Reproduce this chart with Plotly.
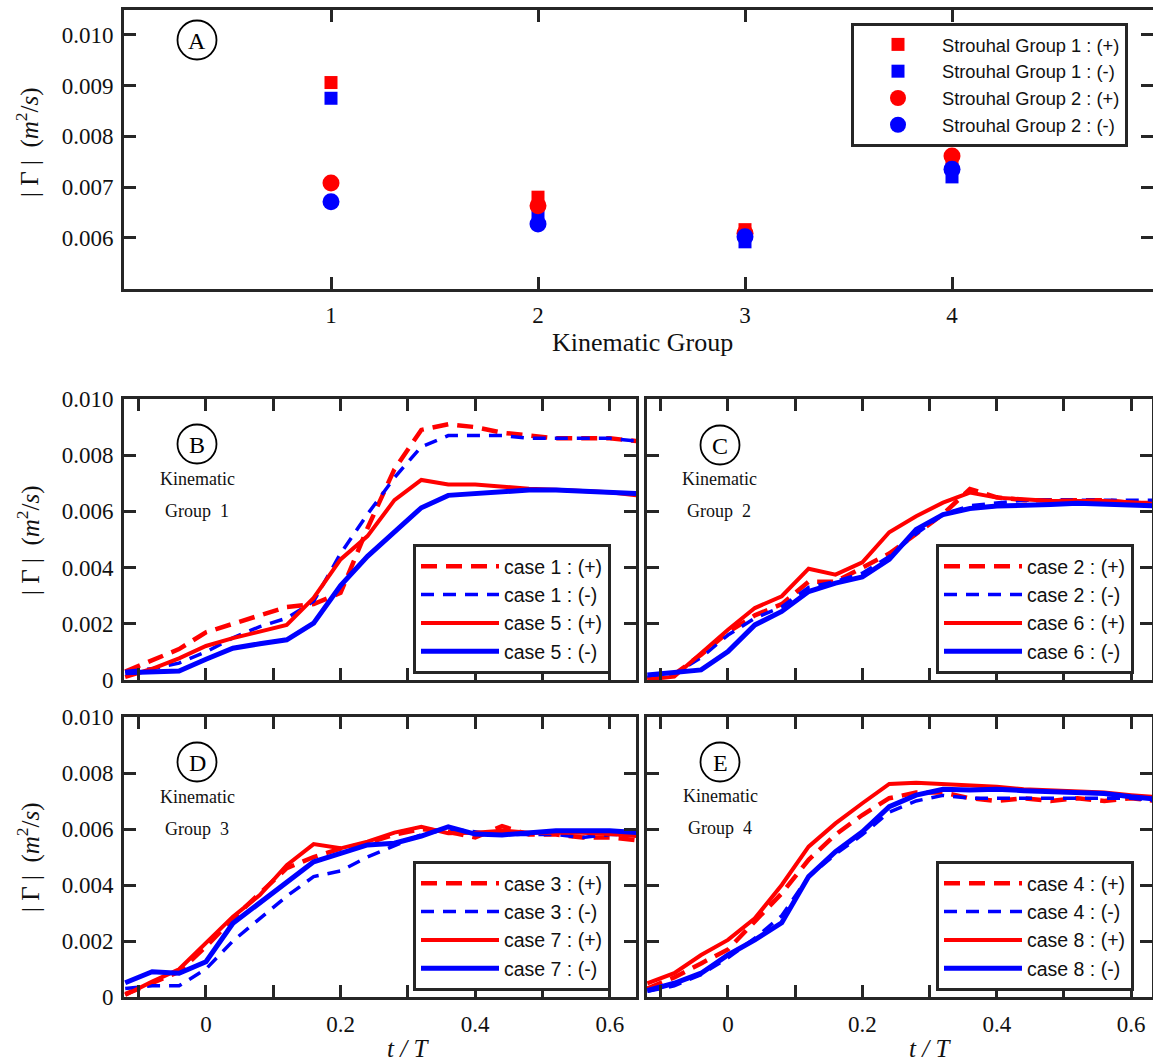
import plotly.graph_objects as go

W, H = 1153, 1061

# ---------------- data ----------------
kinematic_groups = [1, 2, 3, 4]
st1_pos = [0.00906, 0.00680, 0.00616, 0.00748]
st1_neg = [0.00875, 0.00649, 0.00592, 0.00720]
st2_pos = [0.00708, 0.00663, 0.00609, 0.00761]
st2_neg = [0.00671, 0.00627, 0.00602, 0.00735]

t_over_T = [-0.12, -0.08, -0.04, 0.00, 0.04, 0.08, 0.12, 0.16, 0.20, 0.24,
            0.28, 0.32, 0.36, 0.40, 0.44, 0.48, 0.52, 0.56, 0.60, 0.64]

# Kinematic group 1
case1_pos = [0.0003, 0.0007, 0.0011, 0.0017, 0.0020, 0.0023, 0.0026, 0.0027, 0.0031, 0.0054,
             0.0075, 0.0089, 0.0091, 0.0090, 0.0088, 0.0087, 0.0086, 0.0086, 0.0086, 0.0085]
case1_neg = [0.0003, 0.0004, 0.0006, 0.0010, 0.0015, 0.0019, 0.0022, 0.0028, 0.0045, 0.0059,
             0.0072, 0.0083, 0.0087, 0.0087, 0.0087, 0.0086, 0.0086, 0.0086, 0.0086, 0.0085]
case5_pos = [0.0001, 0.0004, 0.00077, 0.00121, 0.00149, 0.00173, 0.00196, 0.00292, 0.00429, 0.00512,
             0.00640, 0.00712, 0.00696, 0.00696, 0.00687, 0.00681, 0.00677, 0.00672, 0.00668, 0.00657]
case5_neg = [0.00026, 0.0003, 0.00032, 0.00074, 0.00113, 0.00129, 0.00143, 0.00202, 0.00336, 0.0044,
             0.00526, 0.00613, 0.00657, 0.00663, 0.00673, 0.00676, 0.00676, 0.00673, 0.00667, 0.00664]

# Kinematic group 2
case2_pos = [0.00005, 0.0002, 0.0009, 0.0017, 0.0023, 0.0027, 0.0035, 0.0035, 0.0040, 0.0045,
             0.0052, 0.0059, 0.0068, 0.0065, 0.0064, 0.0064, 0.0064, 0.0064, 0.0063, 0.0063]
case2_neg = [0.0001, 0.0002, 0.0008, 0.0016, 0.0022, 0.0026, 0.0033, 0.0035, 0.0038, 0.0044,
             0.0052, 0.0059, 0.0062, 0.0063, 0.0064, 0.0064, 0.0064, 0.0064, 0.0064, 0.0064]
case6_pos = [0.00002, 0.00012, 0.00095, 0.00179, 0.00256, 0.00298, 0.00396, 0.00375, 0.00419, 0.00526,
             0.00583, 0.00631, 0.00667, 0.00649, 0.00643, 0.00637, 0.00637, 0.00637, 0.00633, 0.00625]
case6_neg = [0.00018, 0.00026, 0.00036, 0.00101, 0.00196, 0.00244, 0.00315, 0.00345, 0.00367, 0.00429,
             0.00536, 0.00589, 0.0061, 0.00619, 0.00624, 0.00625, 0.00629, 0.00625, 0.00624, 0.00619]

# Kinematic group 3
case3_pos = [0.0001, 0.0005, 0.0009, 0.0018, 0.0028, 0.0037, 0.0046, 0.0050, 0.0053, 0.0055,
             0.0058, 0.0060, 0.0059, 0.0057, 0.0061, 0.0058, 0.0058, 0.0057, 0.0057, 0.0056]
case3_neg = [0.0003, 0.0004, 0.0004, 0.0010, 0.0020, 0.0028, 0.0036, 0.0043, 0.0045, 0.0050,
             0.0054, 0.0058, 0.0060, 0.0059, 0.0058, 0.0058, 0.0058, 0.0057, 0.0058, 0.0058]
case7_pos = [0.00007, 0.00055, 0.00099, 0.00192, 0.00287, 0.00364, 0.00471, 0.00546, 0.00531, 0.00555,
             0.00587, 0.00608, 0.00585, 0.00587, 0.00594, 0.00587, 0.00587, 0.00587, 0.00582, 0.00575]
case7_neg = [0.00051, 0.0009, 0.00085, 0.00126, 0.00263, 0.00337, 0.00406, 0.00483, 0.00513, 0.00543,
             0.00549, 0.00575, 0.00608, 0.00582, 0.00579, 0.00585, 0.00594, 0.00594, 0.00594, 0.00587]

# Kinematic group 4
case4_pos = [0.0003, 0.0007, 0.0012, 0.0017, 0.0027, 0.0037, 0.0049, 0.0058, 0.0065, 0.0071,
             0.0073, 0.0073, 0.0071, 0.0070, 0.0071, 0.0070, 0.0071, 0.0070, 0.0071, 0.0070]
case4_neg = [0.0002, 0.0004, 0.0008, 0.0014, 0.0021, 0.0029, 0.0043, 0.0051, 0.0058, 0.0066,
             0.0070, 0.0072, 0.0071, 0.0071, 0.0071, 0.0071, 0.0071, 0.0071, 0.0071, 0.0070]
case8_pos = [0.00049, 0.00085, 0.0015, 0.00204, 0.00281, 0.0040, 0.00537, 0.0062, 0.00692, 0.00761,
             0.00765, 0.00761, 0.00756, 0.00751, 0.00742, 0.00739, 0.00733, 0.0073, 0.00721, 0.00713]
case8_neg = [0.00023, 0.00049, 0.00085, 0.0015, 0.00204, 0.00265, 0.0043, 0.00519, 0.0059, 0.0068,
             0.00721, 0.00742, 0.00739, 0.00742, 0.00737, 0.00733, 0.00727, 0.00727, 0.00715, 0.00706]

a_yticks = [0.006, 0.007, 0.008, 0.009, 0.010]
a_yticktext = ["0.006", "0.007", "0.008", "0.009", "0.010"]
g_yticks = [0, 0.002, 0.004, 0.006, 0.008, 0.010]
g_yticktext = ["0", "0.002", "0.004", "0.006", "0.008", "0.010"]
t_ticks = [0.0, 0.2, 0.4, 0.6]
t_ticktext = ["0", "0.2", "0.4", "0.6"]

panels = [
    # (label, group, dashed+, dashed-, solid+, solid-, dashed case no, solid case no)
    ("B", 1, case1_pos, case1_neg, case5_pos, case5_neg, 1, 5),
    ("C", 2, case2_pos, case2_neg, case6_pos, case6_neg, 2, 6),
    ("D", 3, case3_pos, case3_neg, case7_pos, case7_neg, 3, 7),
    ("E", 4, case4_pos, case4_neg, case8_pos, case8_neg, 4, 8),
]

# ---------------- styling ----------------
RED = "#ff0000"
BLUE = "#0000ff"
FRAME = "#262626"
SERIF = "Liberation Serif"
SANS = "Liberation Sans"


def px(x):
    return x / W


def py(y):
    return 1 - y / H


fig = go.Figure()

# Panel A
for name, vals, sym, col, size in [
    ("Strouhal Group 1 : (+)", st1_pos, "square", RED, 13),
    ("Strouhal Group 1 : (-)", st1_neg, "square", BLUE, 13),
    ("Strouhal Group 2 : (+)", st2_pos, "circle", RED, 17),
    ("Strouhal Group 2 : (-)", st2_neg, "circle", BLUE, 17),
]:
    fig.add_trace(go.Scatter(x=kinematic_groups, y=vals, mode="markers", name=name,
                             marker=dict(symbol=sym, color=col, size=size, line=dict(width=0)),
                             xaxis="x", yaxis="y", legend="legend"))

# Panels B-E
for i, (lab, grp, dp, dn, sp, sn, cd, cs) in enumerate(panels):
    ax = i + 2
    leg = "legend%d" % ax
    specs = [
        ("case %d : (+)" % cd, dp, RED, "16px,9px", 4.5),
        ("case %d : (-)" % cd, dn, BLUE, "13px,9px", 3.5),
        ("case %d : (+)" % cs, sp, RED, "solid", 4),
        ("case %d : (-)" % cs, sn, BLUE, "solid", 5),
    ]
    for name, vals, col, dash, lw in specs:
        fig.add_trace(go.Scatter(x=t_over_T, y=vals, mode="lines", name=name,
                                 line=dict(color=col, width=lw, dash=dash),
                                 xaxis="x%d" % ax, yaxis="y%d" % ax, legend=leg))

axis_common = dict(showline=True, linecolor=FRAME, linewidth=3, mirror="ticks",
                   ticks="inside", ticklen=12, tickwidth=3, tickcolor=FRAME,
                   showgrid=False, zeroline=False, automargin=False,
                   tickfont=dict(family=SERIF, size=23, color="#111111"))

layout = dict(
    width=W, height=H, margin=dict(l=0, r=0, t=0, b=0, autoexpand=False),
    plot_bgcolor="white", paper_bgcolor="white", showlegend=True,
)

# A axes
layout["xaxis"] = dict(axis_common, domain=[px(124), 1.0], range=[0, (W - 124) / 207.0],
                       tickvals=kinematic_groups, ticktext=["1", "2", "3", "4"],
                       anchor="y", ticklabelstandoff=3)
layout["yaxis"] = dict(axis_common, domain=[py(289), py(10)], range=[0.00499, 0.01049],
                       tickvals=a_yticks, ticktext=a_yticktext, anchor="x",
                       ticklabelstandoff=3)

dom = {
    2: ([px(124), px(636)], [py(680), py(399)], [-0.1218, 0.639]),
    3: ([px(647), px(1152)], [py(680), py(399)], [-0.1205, 0.631]),
    4: ([px(124), px(636)], [py(997), py(717)], [-0.1218, 0.639]),
    5: ([px(647), px(1152)], [py(997), py(717)], [-0.1205, 0.631]),
}
for ax, (xd, yd, xr) in dom.items():
    layout["xaxis%d" % ax] = dict(axis_common, domain=xd, range=xr, anchor="y%d" % ax,
                                  tickvals=t_ticks, ticktext=t_ticktext,
                                  minor=dict(ticks="inside", ticklen=12, tickwidth=3,
                                             tickcolor=FRAME, dtick=0.1, tick0=0,
                                             showgrid=False),
                                  showticklabels=ax in (4, 5), ticklabelstandoff=4)
    layout["yaxis%d" % ax] = dict(axis_common, domain=yd, range=[0, 0.010], anchor="x%d" % ax,
                                  tickvals=g_yticks, ticktext=g_yticktext,
                                  showticklabels=ax in (2, 4), ticklabelstandoff=3)

legend_common = dict(xanchor="left", yanchor="top", bgcolor="white",
                     bordercolor=FRAME, borderwidth=3, itemwidth=78,
                     tracegroupgap=0)
layout["legend"] = dict(legend_common, x=px(851), y=py(23),
                        font=dict(family=SANS, size=18.3, color="#111111"))
for ax, (lx, ly) in {2: (413, 544), 3: (936, 544), 4: (413, 861), 5: (936, 861)}.items():
    layout["legend%d" % ax] = dict(legend_common, x=px(lx), y=py(ly),
                                   font=dict(family=SANS, size=19.5, color="#111111"))

fig.update_layout(**layout)

# ---------------- annotations ----------------
ann = []
shapes = []
title_txt = "| Γ |  (<i>m</i><sup>2</sup>/<i>s</i>)"
for cy in (142, 540, 857):
    ann.append(dict(x=px(28), y=py(cy), xref="paper", yref="paper", text=title_txt,
                    textangle=-90, showarrow=False, xanchor="center", yanchor="middle",
                    font=dict(family=SERIF, size=25, color="#111111")))
ann.append(dict(x=px(642), y=py(342), xref="paper", yref="paper", text="Kinematic Group",
                showarrow=False, xanchor="center", yanchor="middle",
                font=dict(family=SERIF, size=26, color="#111111")))
for cx in (408, 930):
    ann.append(dict(x=px(cx), y=py(1048), xref="paper", yref="paper", text="<i>t / T</i>",
                    showarrow=False, xanchor="center", yanchor="middle",
                    font=dict(family=SERIF, size=25, color="#111111")))

circle_labels = [("A", 197, 40), ("B", 197, 444), ("C", 720, 445), ("D", 197, 762), ("E", 720, 762)]
R = 19.5
for lab, cx, cy in circle_labels:
    shapes.append(dict(type="circle", xref="paper", yref="paper",
                       x0=px(cx - R), x1=px(cx + R), y0=py(cy + R), y1=py(cy - R),
                       line=dict(color="black", width=1.8)))
    ann.append(dict(x=px(cx), y=py(cy + 1), xref="paper", yref="paper", text=lab,
                    showarrow=False, xanchor="center", yanchor="middle",
                    font=dict(family=SERIF, size=24, color="black")))

for (lab, grp, *_), (cx, cy) in zip(panels, [(197, 479), (719, 479), (197, 797), (720, 796)]):
    ann.append(dict(x=px(cx), y=py(cy), xref="paper", yref="paper", text="Kinematic",
                    showarrow=False, xanchor="center", yanchor="middle",
                    font=dict(family=SERIF, size=18, color="#111111")))
    ann.append(dict(x=px(cx), y=py(cy + 32), xref="paper", yref="paper",
                    text="Group\u00a0\u00a0%d" % grp,
                    showarrow=False, xanchor="center", yanchor="middle",
                    font=dict(family=SERIF, size=18, color="#111111")))

fig.update_layout(annotations=ann, shapes=shapes)

fig.write_html("out.html")
